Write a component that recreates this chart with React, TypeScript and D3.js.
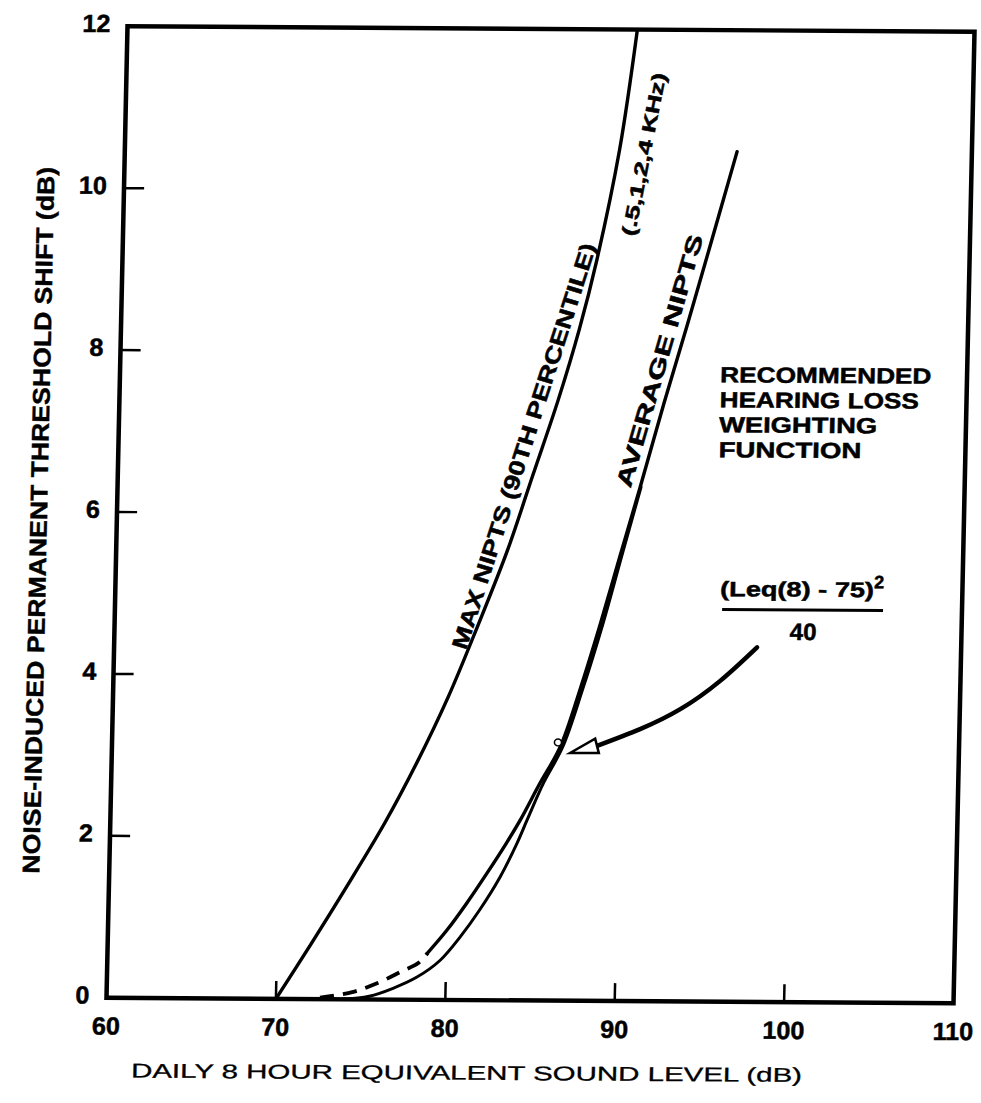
import React from "react";
import * as d3 from "d3";

// ---------- data ----------
const xTickValues = [60, 70, 80, 90, 100, 110];
const yTickValues = [0, 2, 4, 6, 8, 10, 12];
const xInnerTicks = [70, 80, 90, 100];
const yInnerTicks = [2, 4, 6, 8, 10];

// MAX NIPTS (90th percentile) (.5,1,2,4 kHz)
const maxNiptsLeq = [70, 72.0, 74.0, 76.2, 78.0, 79.8, 81.45, 83.1, 84.5, 85.9, 87.05, 88.0, 89.2, 90.1];
const maxNiptsShift = [0, 0.68, 1.38, 2.18, 2.92, 3.75, 4.63, 5.56, 6.49, 7.42, 8.29, 9.15, 10.51, 12];

// AVERAGE NIPTS - dashed low-level extension
const avgDashLeq = [72.6, 74.5, 75.95, 77.3, 78.4, 78.9];
const avgDashShift = [0.02, 0.09, 0.2, 0.34, 0.46, 0.58];

// AVERAGE NIPTS - solid
const avgNiptsLeq = [78.9, 80.0, 81.15, 82.3, 83.4, 84.2, 85.3, 86.45, 87.55, 88.65, 89.75, 90.85, 92.15, 93.4, 94.6, 95.37, 96.14];
const avgNiptsShift = [0.58, 0.86, 1.2, 1.57, 1.94, 2.23, 2.68, 3.13, 3.84, 4.64, 5.5, 6.35, 7.39, 8.34, 9.28, 9.89, 10.5];

// Recommended hearing loss weighting function
const recLeq = [73.9, 75.5, 76.9, 78.3, 79.65, 80.8, 81.9, 83.07, 84.03, 84.6, 85.55, 86.6, 87.7, 88.8, 89.85, 90.9];
const recShift = [0, 0.04, 0.14, 0.28, 0.49, 0.78, 1.11, 1.52, 1.94, 2.23, 2.7, 3.13, 3.84, 4.64, 5.5, 6.35];

// annotation arrow (data units)
const arrowLeq = [97.95, 95.8, 93.5, 91.15, 88.63];
const arrowShift = [4.38, 3.96, 3.61, 3.36, 3.15];
const arrowTip = [87.05, 3.06];
const markerPoint = [86.32, 3.19];

const recommendedLines = ["RECOMMENDED", "HEARING LOSS", "WEIGHTING", "FUNCTION"];
const recommendedWidths = [210, 198, 157, 142];

// ---------- layout ----------
const W = 842;
const H = 976;
// slight skew of the scanned original
const MAT = { a: 1.005938, b: 0.006532, c: -0.021516, d: 0.995389, e: 127.5, f: 26.25 };

const zip = (xs: number[], ys: number[]): [number, number][] => xs.map((v, i) => [v, ys[i]]);

export default function App() {
  const x = d3.scaleLinear().domain([60, 110]).range([0, W]);
  const y = d3.scaleLinear().domain([0, 12]).range([H, 0]);
  const line = d3
    .line<[number, number]>()
    .x((d) => x(d[0]))
    .y((d) => y(d[1]))
    .curve(d3.curveCatmullRom.alpha(0.5));
  const smooth = d3
    .line<[number, number]>()
    .x((d) => x(d[0]))
    .y((d) => y(d[1]))
    .curve(d3.curveNatural);

  const bold = {
    fontFamily: "'Liberation Sans', Arial, sans-serif",
    fontWeight: 700,
    stroke: "#000",
    strokeWidth: 0.5,
  } as const;

  const label = (
    p1: [number, number],
    p2: [number, number],
    text: string,
    len: number,
    fs: number,
    dy: number
  ) => {
    const u1 = x(p1[0]);
    const v1 = y(p1[1]);
    const u2 = x(p2[0]);
    const v2 = y(p2[1]);
    const ang = (Math.atan2(v2 - v1, u2 - u1) * 180) / Math.PI;
    return (
      <text
        transform={`translate(${u1},${v1}) rotate(${ang})`}
        dy={dy}
        fontSize={fs}
        textLength={len}
        lengthAdjust="spacingAndGlyphs"
        {...bold}
      >
        {text}
      </text>
    );
  };

  // arrow head
  const tu = x(arrowTip[0]);
  const tv = y(arrowTip[1]);
  const bu = x(arrowLeq[arrowLeq.length - 1]);
  const bv = y(arrowShift[arrowShift.length - 1]);
  const hl = Math.hypot(bu - tu, bv - tv);
  const nx = -(bv - tv) / hl;
  const ny = (bu - tu) / hl;
  const hw = 7.5;
  const head = `M${tu},${tv} L${bu + nx * hw},${bv + ny * hw} L${bu - nx * hw},${bv - ny * hw} Z`;

  const recX = x(95.43);
  const recY0 = y(7.65);

  return (
    <svg
      width={981}
      height={1103}
      style={{ position: "absolute", left: 0, top: 0, display: "block" }}
    >
      <rect width={981} height={1103} fill="#fff" />
      <g transform={`matrix(${MAT.a},${MAT.b},${MAT.c},${MAT.d},${MAT.e},${MAT.f})`}>
        {/* frame */}
        <rect x={0} y={0} width={W} height={H} fill="none" stroke="#000" strokeWidth={4.5} />
        {/* ticks */}
        {xInnerTicks.map((t) => (
          <line key={"xt" + t} x1={x(t)} x2={x(t)} y1={H} y2={H - 18} stroke="#000" strokeWidth={2.5} />
        ))}
        {yInnerTicks.map((t) => (
          <line key={"yt" + t} x1={0} x2={20} y1={y(t)} y2={y(t)} stroke="#000" strokeWidth={2.5} />
        ))}
        {/* tick labels */}
        {xTickValues.map((t) => (
          <text key={"xl" + t} x={x(t)} y={H + 37} textAnchor="middle" fontSize={25} {...bold}>
            {t}
          </text>
        ))}
        {yTickValues.map((t) => (
          <text
            key={"yl" + t}
            x={-17}
            y={y(t) - 3}
            textAnchor="end"
            dominantBaseline="central"
            fontSize={25}
            {...bold}
          >
            {t}
          </text>
        ))}

        {/* axis titles */}
        <text
          x={W * 0.427}
          y={H + 80}
          textAnchor="middle"
          fontSize={20}
          textLength={667}
          lengthAdjust="spacingAndGlyphs"
          fontFamily="'Liberation Sans', Arial, sans-serif"
          stroke="#000"
          strokeWidth={0.3}
        >
          DAILY 8 HOUR EQUIVALENT SOUND LEVEL (dB)
        </text>
        <text
          transform={`translate(-78,${H * 0.509}) rotate(-90)`}
          textAnchor="middle"
          dominantBaseline="central"
          fontSize={24}
          textLength={710}
          lengthAdjust="spacingAndGlyphs"
          fontFamily="'Liberation Sans Narrow', 'Liberation Sans', Arial, sans-serif"
          fontWeight={700}
          stroke="#000"
          strokeWidth={0.4}
        >
          NOISE-INDUCED PERMANENT THRESHOLD SHIFT (dB)
        </text>

        {/* curves */}
        <path d={line(zip(maxNiptsLeq, maxNiptsShift)) || ""} fill="none" stroke="#000" strokeWidth={3.4} strokeLinecap="round" />
        <path d={line(zip(avgDashLeq, avgDashShift)) || ""} fill="none" stroke="#000" strokeWidth={3.8} strokeDasharray="14 9" />
        <path d={line(zip(avgNiptsLeq, avgNiptsShift)) || ""} fill="none" stroke="#000" strokeWidth={3.4} strokeLinecap="round" />
        <path d={line(zip(recLeq, recShift)) || ""} fill="none" stroke="#000" strokeWidth={3} strokeLinecap="round" />
        <circle cx={x(markerPoint[0])} cy={y(markerPoint[1])} r={3.5} fill="#fff" stroke="#000" strokeWidth={1.5} />

        {/* curve labels */}
        {label([81.0, 4.3], [88.1, 9.25], "MAX NIPTS (90TH PERCENTILE)", 425, 22, -4)}
        {label([90.2, 9.44], [91.85, 11.45], "(.5,1,2,4 KHz)", 166, 19, 0)}
        {label([90.8, 6.3], [94.95, 9.55], "AVERAGE NIPTS", 262, 22, -9)}

        {/* recommended block */}
        {recommendedLines.map((s, i) => (
          <text
            key={s}
            x={recX}
            y={recY0 + i * 25.1}
            fontSize={22}
            textLength={recommendedWidths[i]}
            lengthAdjust="spacingAndGlyphs"
            {...bold}
          >
            {s}
          </text>
        ))}

        {/* formula */}
        <text x={x(95.7)} y={y(5.01)} fontSize={21} textLength={153} lengthAdjust="spacingAndGlyphs" {...bold}>
          (Leq(8) - 75)
        </text>
        <text x={x(104.78)} y={y(5.12)} fontSize={18} {...bold}>
          2
        </text>
        <line x1={x(95.84)} x2={x(105.34)} y1={y(4.844)} y2={y(4.844)} stroke="#000" strokeWidth={3} />
        <text x={x(100.65)} y={y(4.474)} textAnchor="middle" fontSize={24} {...bold}>
          40
        </text>

        {/* annotation arrow */}
        <path
          d={smooth(zip(arrowLeq, arrowShift)) || ""}
          fill="none"
          stroke="#000"
          strokeWidth={4.5}
          strokeLinecap="round"
        />
        <path d={head} fill="#fff" stroke="#000" strokeWidth={2.5} strokeLinejoin="miter" />
      </g>
    </svg>
  );
}
